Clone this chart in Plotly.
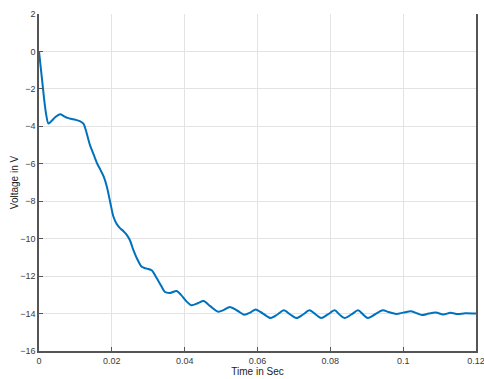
import plotly.graph_objects as go

time_s = [0, 0.0005, 0.001, 0.0015, 0.002, 0.0026, 0.0035, 0.0045, 0.0058, 0.0068,
          0.0078, 0.0088, 0.0100, 0.0112, 0.0122, 0.013, 0.0140, 0.015, 0.016, 0.0168,
          0.0178, 0.0186, 0.0195, 0.0204, 0.0213, 0.0223, 0.0232, 0.0241, 0.025, 0.0259,
          0.027, 0.0282, 0.0296, 0.031, 0.0323, 0.0335, 0.0346, 0.036, 0.0378, 0.039,
          0.0405, 0.0419, 0.0436, 0.0452, 0.047, 0.0492, 0.0508, 0.0524, 0.0545, 0.0563,
          0.058, 0.0595, 0.0615, 0.0636, 0.0655, 0.0672, 0.069, 0.0707, 0.0725, 0.0743,
          0.076, 0.0775, 0.0793, 0.0812, 0.0825, 0.0839, 0.0858, 0.0876, 0.089, 0.0903,
          0.0922, 0.0944, 0.096, 0.0981, 0.100, 0.1022, 0.104, 0.1053, 0.107, 0.109,
          0.111, 0.113, 0.115, 0.117, 0.12]
voltage_v = [0, -0.9, -1.8, -2.7, -3.4, -3.85, -3.7, -3.5, -3.35, -3.45,
             -3.55, -3.6, -3.65, -3.72, -3.85, -4.3, -5.0, -5.5, -6.0, -6.3,
             -6.7, -7.2, -8.0, -8.8, -9.2, -9.45, -9.6, -9.8, -10.1, -10.6,
             -11.1, -11.5, -11.6, -11.7, -12.1, -12.5, -12.85, -12.9, -12.8, -13.0,
             -13.35, -13.56, -13.45, -13.33, -13.6, -13.9, -13.8, -13.65, -13.85, -14.06,
             -13.95, -13.78, -14.0, -14.24, -14.05, -13.83, -14.05, -14.24, -14.05, -13.83,
             -14.05, -14.24, -14.05, -13.83, -14.05, -14.24, -14.05, -13.83, -14.05, -14.24,
             -14.05, -13.83, -13.92, -14.02, -13.95, -13.88, -14.0, -14.08, -14.0, -13.95,
             -14.05, -13.96, -14.03, -13.98, -14.0]

x_ticks = [0, 0.02, 0.04, 0.06, 0.08, 0.1, 0.12]
x_tick_labels = ["0", "0.02", "0.04", "0.06", "0.08", "0.1", "0.12"]
y_ticks = [2, 0, -2, -4, -6, -8, -10, -12, -14, -16]

fig = go.Figure(go.Scatter(
    x=time_s, y=voltage_v, mode="lines",
    line=dict(color="#0072BD", width=2, shape="spline", smoothing=0.8),
    showlegend=False))

tickfont = dict(family="Liberation Sans, Arial", size=9, color="#3a3a3a")
titlefont = dict(family="Liberation Sans, Arial", size=10, color="#222222")
fig.update_layout(
    width=484, height=379,
    margin=dict(l=39, r=8, t=14, b=28),
    paper_bgcolor="white", plot_bgcolor="white",
    xaxis=dict(range=[0, 0.120001], tickvals=x_ticks, ticktext=x_tick_labels,
               automargin=False, ticklabeloverflow="allow",
               showgrid=True, gridcolor="#E3E3E3", gridwidth=1,
               zeroline=False, showline=True, linecolor="#555555", linewidth=1.5,
               ticks="inside", ticklen=4, tickcolor="#555555",
               tickfont=tickfont,
               title=dict(text="Time in Sec", standoff=2, font=titlefont)),
    yaxis=dict(range=[-16, 2], tickvals=y_ticks,
               automargin=False, ticklabeloverflow="allow",
               showgrid=True, gridcolor="#E3E3E3", gridwidth=1,
               zeroline=False, showline=True, linecolor="#555555", linewidth=1.5,
               mirror=True,
               ticks="inside", ticklen=4, tickcolor="#555555",
               tickfont=tickfont,
               title=dict(text="Voltage in V", standoff=0, font=titlefont)),
)

fig.write_html(
    "out.html",
    config={"displayModeBar": False},
    post_script="document.body.style.margin='0';document.body.style.overflow='hidden';",
)
